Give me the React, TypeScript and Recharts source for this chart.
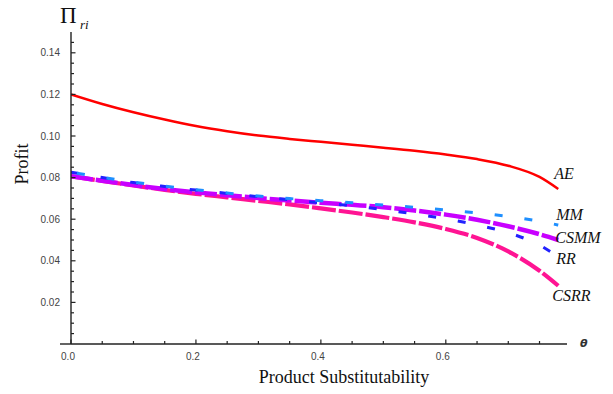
import React from 'react';
import { LineChart, Line, XAxis, YAxis } from 'recharts';

const thetas = [0, 0.05, 0.1, 0.15, 0.2, 0.25, 0.3, 0.35, 0.4, 0.45, 0.5, 0.55, 0.6, 0.65, 0.7, 0.75, 0.78];
const aeValues = [0.12, 0.1154, 0.1114, 0.1079, 0.1048, 0.1023, 0.1002, 0.0986, 0.0972, 0.0958, 0.0944, 0.0929, 0.0911, 0.0889, 0.0857, 0.0803, 0.0745];
const mmValues = [0.0826, 0.0801, 0.0778, 0.0759, 0.0742, 0.0726, 0.0711, 0.0699, 0.0689, 0.0679, 0.0668, 0.0657, 0.0644, 0.063, 0.0613, 0.059, 0.0572];
const rrValues = [0.0826, 0.08, 0.0776, 0.0757, 0.074, 0.0724, 0.0708, 0.0693, 0.0678, 0.0664, 0.0646, 0.0625, 0.0602, 0.0572, 0.0535, 0.0475, 0.042];
const csmmValues = [0.0806, 0.0785, 0.0764, 0.0745, 0.0729, 0.0715, 0.0702, 0.069, 0.0679, 0.0669, 0.0658, 0.0642, 0.0622, 0.0597, 0.0566, 0.0528, 0.05];
const csrrValues = [0.0806, 0.0784, 0.0762, 0.0741, 0.0722, 0.0705, 0.0688, 0.0671, 0.0652, 0.0632, 0.061, 0.0585, 0.0553, 0.051, 0.0445, 0.0352, 0.028];

const xTicks = [0, 0.05, 0.1, 0.15, 0.2, 0.25, 0.3, 0.35, 0.4, 0.45, 0.5, 0.55, 0.6, 0.65, 0.7, 0.75];
const xMajor = [0, 0.2, 0.4, 0.6];
const yTicks = [0.005, 0.01, 0.015, 0.02, 0.025, 0.03, 0.035, 0.04, 0.045, 0.05, 0.055, 0.06, 0.065, 0.07, 0.075, 0.08, 0.085, 0.09, 0.095, 0.1, 0.105, 0.11, 0.115, 0.12, 0.125, 0.13, 0.135, 0.14, 0.145];
const yMajor = [0.02, 0.04, 0.06, 0.08, 0.1, 0.12, 0.14];

const data = thetas.map((t, i) => ({
  theta: t,
  AE: aeValues[i],
  MM: mmValues[i],
  RR: rrValues[i],
  CSMM: csmmValues[i],
  CSRR: csrrValues[i],
}));

const isMajor = (v: number, list: number[]) => list.some((m) => Math.abs(m - v) < 1e-6);

const YTick = (props: any) => {
  const { x, y, payload } = props;
  const major = isMajor(payload.value, yMajor);
  return (
    <g>
      <line x1={x} y1={y} x2={x + (major ? 4.5 : 3)} y2={y} stroke="#222" strokeWidth={1.2} />
      {major && (
        <text x={x - 11} y={y + 3.5} textAnchor="end" fontSize={10} fontFamily="Arial, 'Liberation Sans', sans-serif" fill="#444">
          {payload.value.toFixed(2)}
        </text>
      )}
    </g>
  );
};

const XTick = (props: any) => {
  const { x, y, payload } = props;
  const major = isMajor(payload.value, xMajor);
  return (
    <g>
      <line x1={x} y1={y} x2={x} y2={y - (major ? 4.5 : 3)} stroke="#222" strokeWidth={1.2} />
      {major && (
        <text x={x - 3} y={y + 16} textAnchor="middle" fontSize={10} fontFamily="Arial, 'Liberation Sans', sans-serif" fill="#444">
          {payload.value.toFixed(1)}
        </text>
      )}
    </g>
  );
};

const endLabel = (name: string, dx: number, dy: number) => (p: any) => {
  if (p.index !== thetas.length - 1) return null;
  return (
    <text x={p.x + dx} y={p.y + dy} fontSize={16} fontStyle="italic" fontFamily="'Liberation Serif', 'Times New Roman', serif" fill="#111">
      {name}
    </text>
  );
};

export default function App() {
  return (
    <div style={{ position: 'absolute', left: 0, top: 0, width: 613, height: 394, background: '#fff' }}>
      <LineChart width={613} height={394} data={data} margin={{ top: 32, right: 46, bottom: 30, left: 31 }}>
        <XAxis
          type="number"
          dataKey="theta"
          domain={[0, 0.794]}
          ticks={xTicks}
          allowDataOverflow
          height={20}
          tickSize={0}
          tickMargin={0}
          tickLine={false}
          tick={<XTick />}
          axisLine={{ stroke: '#222', strokeWidth: 1.4 }}
          interval={0}
        />
        <YAxis
          type="number"
          domain={[0, 0.15]}
          ticks={yTicks}
          allowDataOverflow
          width={40}
          tickSize={0}
          tickMargin={0}
          tickLine={false}
          tick={<YTick />}
          axisLine={{ stroke: '#222', strokeWidth: 1.4 }}
          interval={0}
        />
        <Line type="monotone" dataKey="AE" stroke="#ff0000" strokeWidth={2.5} dot={false} isAnimationActive={false} label={endLabel('AE', -4, -10)} />
        <Line type="monotone" dataKey="CSRR" stroke="#ff1493" strokeWidth={4.2} strokeDasharray="24 3" dot={false} isAnimationActive={false} label={endLabel('CSRR', -6, 15)} />
        <Line type="monotone" dataKey="CSMM" stroke="#c800ff" strokeWidth={4.5} strokeDasharray="22 3" dot={false} isAnimationActive={false} label={endLabel('CSMM', -3, 3)} />
        <Line type="monotone" dataKey="RR" stroke="#2222ff" strokeWidth={3} strokeDasharray="8 22" dot={false} isAnimationActive={false} label={endLabel('RR', -2, 7)} />
        <Line type="monotone" dataKey="MM" stroke="#1e8fff" strokeWidth={3} strokeDasharray="8 22" strokeDashoffset={-6} dot={false} isAnimationActive={false} label={endLabel('MM', -2, -5)} />
      </LineChart>
      <svg width={613} height={394} style={{ position: 'absolute', left: 0, top: 0, pointerEvents: 'none' }}>
        <line x1={60} y1={344} x2={71} y2={344} stroke="#222" strokeWidth={1.4} />
        <text x={60} y={23} fontSize={23} fontFamily="'Liberation Serif', 'Times New Roman', serif" fill="#111">Π</text>
        <text x={80} y={29} fontSize={13} fontStyle="italic" fontFamily="'Liberation Serif', 'Times New Roman', serif" fill="#111">ri</text>
        <text x={0} y={0} transform="translate(28,164) rotate(-90)" textAnchor="middle" fontSize={18} fontFamily="'Liberation Serif', 'Times New Roman', serif" fill="#111">Profit</text>
        <text x={344} y={383} textAnchor="middle" fontSize={18} fontFamily="'Liberation Serif', 'Times New Roman', serif" fill="#111">Product Substitutability</text>
        <text x={580} y={347} fontSize={11} fontStyle="italic" fontWeight="bold" fontFamily="'DejaVu Sans', sans-serif" fill="#333">θ</text>
      </svg>
    </div>
  );
}
